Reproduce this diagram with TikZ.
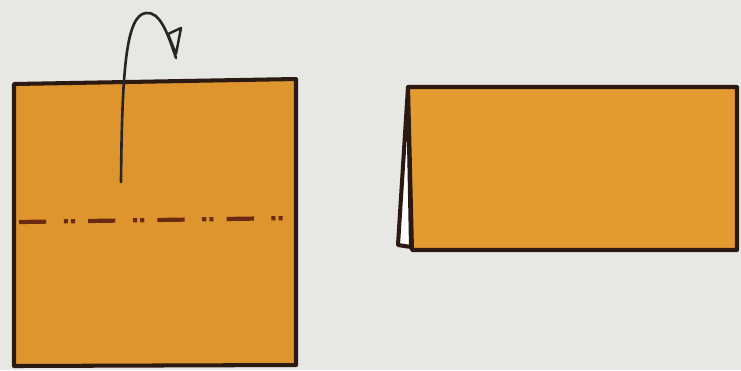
\documentclass[tikz,border=0pt]{standalone}
\usepackage{tikz}
\usetikzlibrary{calc}

\definecolor{bgpaper}{HTML}{E7E7E4}
\definecolor{origami}{HTML}{DE952D}
\definecolor{origamilight}{HTML}{E39B31}
\definecolor{edge}{HTML}{2B1A12}
\definecolor{crease}{HTML}{6A2A12}

\begin{document}
\begin{tikzpicture}[
  x=0.02cm, y=-0.02cm,
  sheet/.style={draw=edge, line width=2.3pt, line join=round},
  mountain/.style={draw=crease, line width=2.4pt,
                   dash pattern=on 15.5pt off 10pt on 2.3pt off 1.8pt on 2.3pt off 7.5pt},
  foldarrow/.style={draw=black!85, line width=1.5pt, line cap=round},
  tiphead/.style={draw=black!85, fill=bgpaper, line width=1.4pt, line join=round}
]

% Background
\fill[bgpaper] (0,0) rectangle (741,370);

% Left: the square with its mountain fold
\filldraw[sheet, fill=origami] (14,84) -- (296,79) -- (296,365) -- (14,366) -- cycle;
\coordinate (creaseL) at (19,222);
\coordinate (creaseR) at (293,218);
\draw[mountain] (creaseL) -- (creaseR);

% Fold-behind arrow
\coordinate (arrStart) at (121,182);
\coordinate (arrTop)   at (146,13);
\coordinate (arrEnd)   at (176,58);
\draw[foldarrow] (arrStart) .. controls (122,70) and (126,15) .. (arrTop)
                 .. controls (160,11) and (168,34) .. (arrEnd);
\draw[tiphead] (168,34) -- (181,28) -- (176,54) -- cycle;

% Right: the folded rectangle
\filldraw[sheet, fill=white] (408,87) -- (398,245) -- (411,247) -- cycle;
\filldraw[sheet, fill=origamilight] (408,87) -- (737,87) -- (737,250) -- (412,250) -- cycle;

\end{tikzpicture}
\end{document}
